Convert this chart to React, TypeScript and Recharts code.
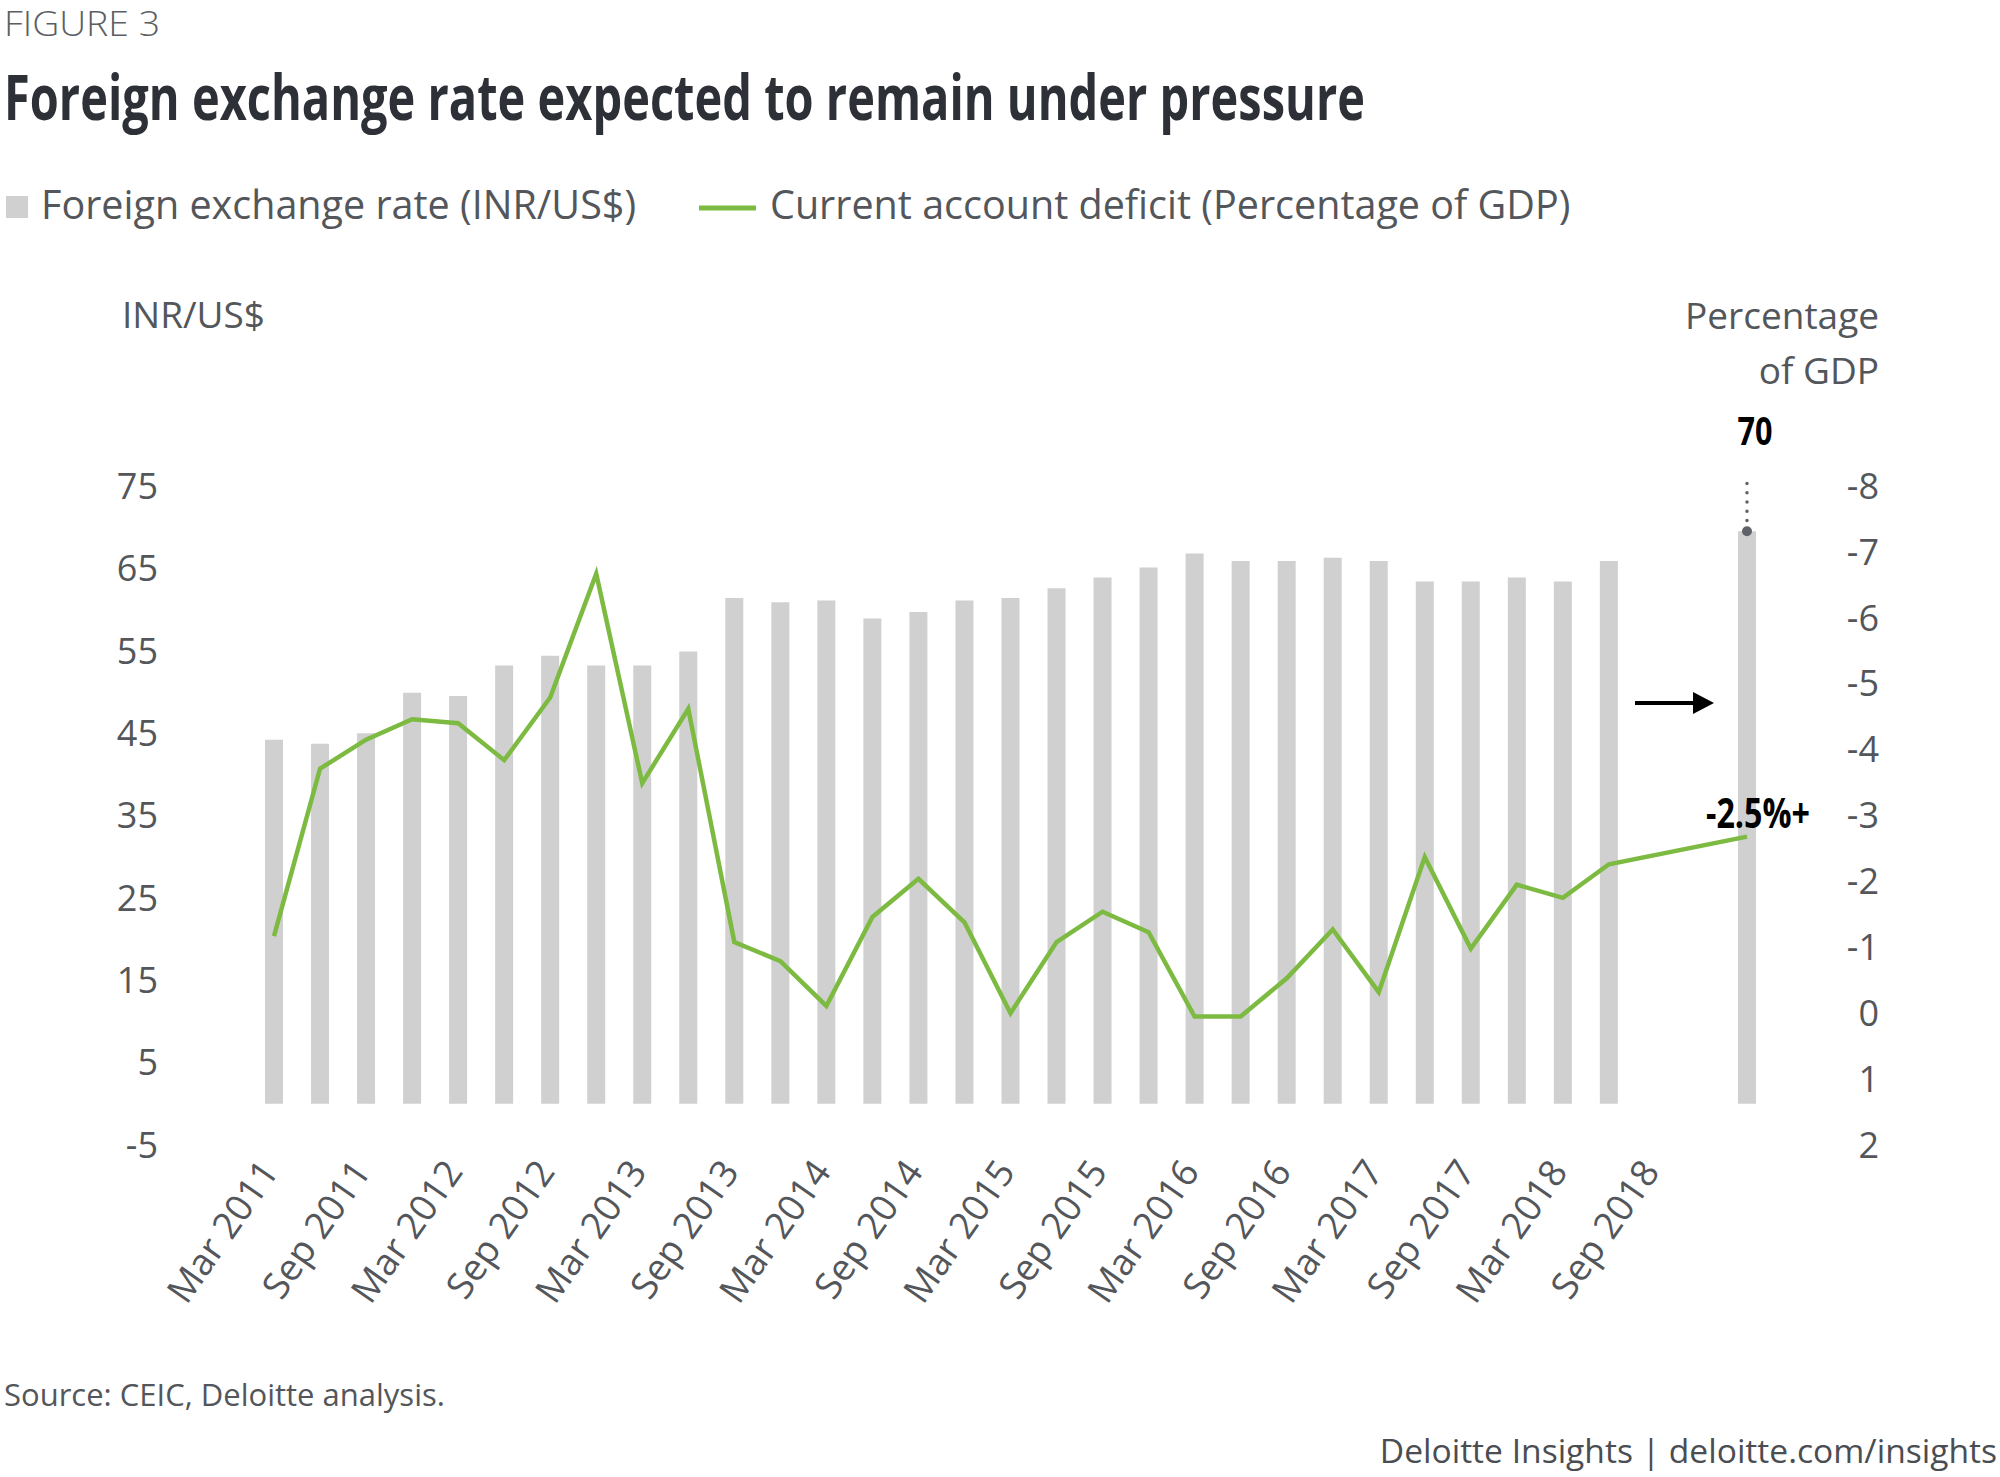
import { Bar, ComposedChart, Line, ReferenceDot, ReferenceLine, XAxis, YAxis } from "recharts";

// quarterly periods, last one is the forecast bar
const categories = [
  "Mar 2011", "Jun 2011", "Sep 2011", "Dec 2011",
  "Mar 2012", "Jun 2012", "Sep 2012", "Dec 2012",
  "Mar 2013", "Jun 2013", "Sep 2013", "Dec 2013",
  "Mar 2014", "Jun 2014", "Sep 2014", "Dec 2014",
  "Mar 2015", "Jun 2015", "Sep 2015", "Dec 2015",
  "Mar 2016", "Jun 2016", "Sep 2016", "Dec 2016",
  "Mar 2017", "Jun 2017", "Sep 2017", "Dec 2017",
  "Mar 2018", "Jun 2018", "Sep 2018", "Dec 2018",
  "Mar 2019"
];

const exchangeRate = [
  44.2, 43.7, 45.0, 49.9, 49.5, 53.2, 54.4, 53.2, 53.2, 54.9,
  61.4, 60.9, 61.1, 58.9, 59.7, 61.1, 61.4, 62.6, 63.9, 65.1,
  66.8, 65.9, 65.9, 66.3, 65.9, 63.4, 63.4, 63.9, 63.4, 65.9,
  null, null, 69.5
];

const currentAccountDeficit = [
  -1.17, -3.71, -4.15, -4.46, -4.4, -3.84, -4.79, -6.67, -3.49, -4.62,
  -1.08, -0.79, -0.11, -1.46, -2.04, -1.38, 0.0, -1.08, -1.54, -1.23,
  0.05, 0.05, -0.53, -1.27, -0.32, -2.37, -0.98, -1.95, -1.75, -2.26,
  null, null, -2.68
];

const tickLabels = [
  "Mar 2011", "Sep 2011", "Mar 2012", "Sep 2012", "Mar 2013", "Sep 2013",
  "Mar 2014", "Sep 2014", "Mar 2015", "Sep 2015", "Mar 2016", "Sep 2016",
  "Mar 2017", "Sep 2017", "Mar 2018", "Sep 2018"
];

const leftTicks = [-5, 5, 15, 25, 35, 45, 55, 65, 75];
const rightTicks = [-8, -7, -6, -5, -4, -3, -2, -1, 0, 1, 2];

const chartData = categories.map((name, i) => ({
  name,
  rate: exchangeRate[i],
  cad: currentAccountDeficit[i]
}));

const forecastName = categories[categories.length - 1];
const forecastRate = exchangeRate[exchangeRate.length - 1] as number;

const textGray = "#53565a";
const barGray = "#d0d0d0";
const green = "#7dba42";
const font = "'Open Sans', 'Noto Sans', sans-serif";

const tickStyle = { fill: textGray, fontSize: 36, fontFamily: font };

function DateTick({ x, y, payload }: any) {
  if (!tickLabels.includes(payload.value)) return null;
  const ax = x + 6;
  const ay = y + 19;
  return (
    <text
      x={ax}
      y={ay}
      transform={`rotate(-55 ${ax} ${ay})`}
      textAnchor="end"
      fill={textGray}
      fontSize={37}
      fontFamily={font}
    >
      {payload.value}
    </text>
  );
}

export default function App() {
  return (
    <div
      style={{
        position: "absolute",
        left: 0,
        top: 0,
        width: 2000,
        height: 1477,
        background: "#fff",
        overflow: "hidden",
        fontFamily: font
      }}
    >
      <div style={{ position: "absolute", left: 0, top: 0 }}>
        <ComposedChart
          width={2000}
          height={1477}
          data={chartData}
          margin={{ top: 486, right: 130, bottom: 272, left: 151 }}
        >
          <XAxis
            dataKey="name"
            interval={0}
            axisLine={false}
            tickLine={false}
            height={60}
            tick={<DateTick />}
          />
          <YAxis
            yAxisId="left"
            orientation="left"
            domain={[-5, 75]}
            ticks={leftTicks}
            interval={0}
            axisLine={false}
            tickLine={false}
            width={100}
            tickMargin={87}
            tick={tickStyle}
          />
          <YAxis
            yAxisId="right"
            orientation="right"
            domain={[-8, 2]}
            reversed
            ticks={rightTicks}
            interval={0}
            axisLine={false}
            tickLine={false}
            width={100}
            tickMargin={103}
            tick={{ ...tickStyle, textAnchor: "end" }}
          />
          <Bar
            yAxisId="left"
            dataKey="rate"
            fill={barGray}
            barSize={18}
            isAnimationActive={false}
          />
          <Line
            yAxisId="right"
            dataKey="cad"
            stroke={green}
            strokeWidth={4.5}
            dot={false}
            activeDot={false}
            connectNulls
            strokeLinejoin="miter"
            isAnimationActive={false}
          />
          <ReferenceLine
            yAxisId="left"
            segment={[
              { x: forecastName, y: forecastRate + 1.3 },
              { x: forecastName, y: 76.4 }
            ]}
            stroke="#5f6369"
            strokeWidth={3.5}
            strokeDasharray="0 9.3"
            strokeLinecap="round"
            ifOverflow="visible"
          />
          <ReferenceDot
            yAxisId="left"
            x={forecastName}
            y={forecastRate}
            r={5}
            fill="#5f6369"
            stroke="none"
            ifOverflow="visible"
          />
        </ComposedChart>
      </div>

      <svg
        width={2000}
        height={1477}
        style={{ position: "absolute", left: 0, top: 0, pointerEvents: "none" }}
      >
        <text x={4} y={36} fontSize={34} fontWeight={300} fill="#5b5e63" fontFamily={font} textLength={156} lengthAdjust="spacingAndGlyphs">
          FIGURE 3
        </text>
        <text x={4} y={120} fontSize={63} fontWeight={700} fill="#2d3037" fontFamily={font} textLength={1361} lengthAdjust="spacingAndGlyphs">
          Foreign exchange rate expected to remain under pressure
        </text>

        {/* legend */}
        <rect x={6} y={196} width={22} height={22} fill={barGray} />
        <text x={41} y={219} fontSize={39.5} fill={textGray} fontFamily={font}>
          Foreign exchange rate (INR/US$)
        </text>
        <line x1={699} x2={756} y1={208} y2={208} stroke={green} strokeWidth={5} />
        <text x={770} y={219} fontSize={39.5} fill={textGray} fontFamily={font}>
          Current account deficit (Percentage of GDP)
        </text>

        {/* axis titles */}
        <text x={122} y={328} fontSize={37} fill={textGray} fontFamily={font}>
          INR/US$
        </text>
        <text x={1879} y={329} fontSize={37} fill={textGray} fontFamily={font} textAnchor="end">
          Percentage
        </text>
        <text x={1879} y={384} fontSize={37} fill={textGray} fontFamily={font} textAnchor="end">
          of GDP
        </text>

        {/* annotations */}
        <text x={1755} y={445} fontSize={39} fontWeight={700} fill="#000" fontFamily={font} textAnchor="middle" textLength={35} lengthAdjust="spacingAndGlyphs">
          70
        </text>
        <text x={1706} y={828} fontSize={41} fontWeight={700} fill="#000" fontFamily={font} textLength={104} lengthAdjust="spacingAndGlyphs">
          -2.5%+
        </text>
        <line x1={1635} x2={1696} y1={703} y2={703} stroke="#000" strokeWidth={4} />
        <path d="M1693 692 L1714 703 L1693 714 Z" fill="#000" />

        {/* footer */}
        <text x={4} y={1406} fontSize={31} fill={textGray} fontFamily={font}>
          Source: CEIC, Deloitte analysis.
        </text>
        <text x={1997} y={1463} fontSize={33.6} fill="#4a4d52" fontFamily={font} textAnchor="end">
          Deloitte Insights | deloitte.com/insights
        </text>
      </svg>
    </div>
  );
}
